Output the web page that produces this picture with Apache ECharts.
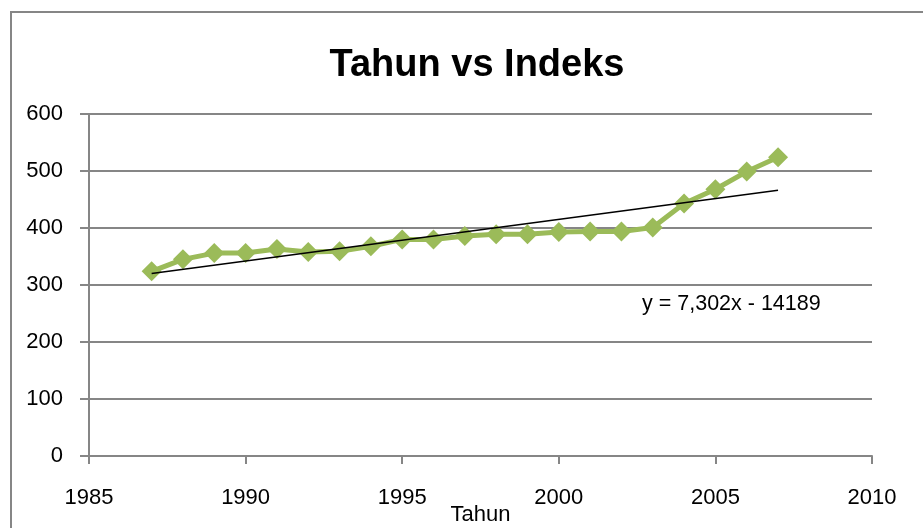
<!DOCTYPE html>
<html>
<head>
<meta charset="utf-8">
<script src="https://cdn.jsdelivr.net/npm/echarts@6/dist/echarts.min.js"></script>
<style>
  html, body { margin: 0; padding: 0; background: #fff; }
  #chart { width: 923px; height: 528px; }
</style>
</head>
<body>
<div id="chart"></div>
<script>
var tahun = [1987, 1988, 1989, 1990, 1991, 1992, 1993, 1994, 1995, 1996, 1997,
             1998, 1999, 2000, 2001, 2002, 2003, 2004, 2005, 2006, 2007];
var indeks = [324, 345, 356, 356, 363, 358, 359, 368, 380, 380, 386,
              389, 389, 393, 394, 394, 401, 443, 468, 499, 524];
// trendline from Excel: y = 7,302x - 14189
var slope = 7.302;
var intercept = -14189;
var xTicks = [1985, 2010];
var yTicks = [0, 600];

var font = 'Liberation Sans, Arial, sans-serif';
var trendStart = tahun[0], trendEnd = tahun[tahun.length - 1];

var chart = echarts.init(document.getElementById('chart'));
chart.setOption({
  animation: false,
  backgroundColor: '#fff',
  title: {
    text: 'Tahun vs Indeks',
    left: 472,
    top: 42,
    textAlign: 'center',
    textStyle: { fontFamily: font, fontSize: 38, fontWeight: 'bold', color: '#000' }
  },
  graphic: [
    {
      type: 'rect',
      shape: { x: 11, y: 12, width: 930, height: 540 },
      style: { fill: 'none', stroke: '#868686', lineWidth: 2 },
      silent: true
    },
    {
      type: 'text',
      left: 642,
      top: 293,
      style: { text: 'y = 7,302x - 14189', font: '21.5px ' + font, fill: '#000' }
    }
  ],
  grid: { left: 89, right: 51, top: 114, bottom: 72, containLabel: false, outerBoundsMode: 'none' },
  xAxis: {
    type: 'value',
    min: xTicks[0],
    max: xTicks[1],
    interval: 5,
    name: 'Tahun',
    nameLocation: 'middle',
    nameGap: 48,
    nameMoveOverlap: false,
    nameTextStyle: { fontFamily: font, fontSize: 22, color: '#000' },
    axisLine: { lineStyle: { color: '#868686', width: 2 } },
    axisTick: { show: true, length: 8, lineStyle: { color: '#868686', width: 2 } },
    axisLabel: {
      fontFamily: font, fontSize: 22, color: '#000', margin: 31,
      formatter: function (v) { return String(v); }
    },
    splitLine: { show: false }
  },
  yAxis: {
    type: 'value',
    min: yTicks[0],
    max: yTicks[1],
    interval: 100,
    axisLine: { show: true, lineStyle: { color: '#868686', width: 2 } },
    axisTick: { show: true, length: 9, lineStyle: { color: '#868686', width: 2 } },
    axisLabel: { fontFamily: font, fontSize: 22, color: '#000', margin: 26 },
    splitLine: { show: true, lineStyle: { color: '#868686', width: 2 } }
  },
  series: [
    {
      name: 'Indeks',
      type: 'line',
      data: tahun.map(function (t, i) { return [t, indeks[i]]; }),
      symbol: 'diamond',
      symbolSize: 20,
      lineStyle: { color: '#9BBB59', width: 5 },
      itemStyle: { color: '#9BBB59' },
      z: 2
    },
    {
      name: 'Trend',
      type: 'line',
      data: [
        [trendStart, slope * trendStart + intercept],
        [trendEnd, slope * trendEnd + intercept]
      ],
      symbol: 'none',
      lineStyle: { color: '#000', width: 1.5 },
      z: 3
    }
  ]
});
</script>
</body>
</html>
